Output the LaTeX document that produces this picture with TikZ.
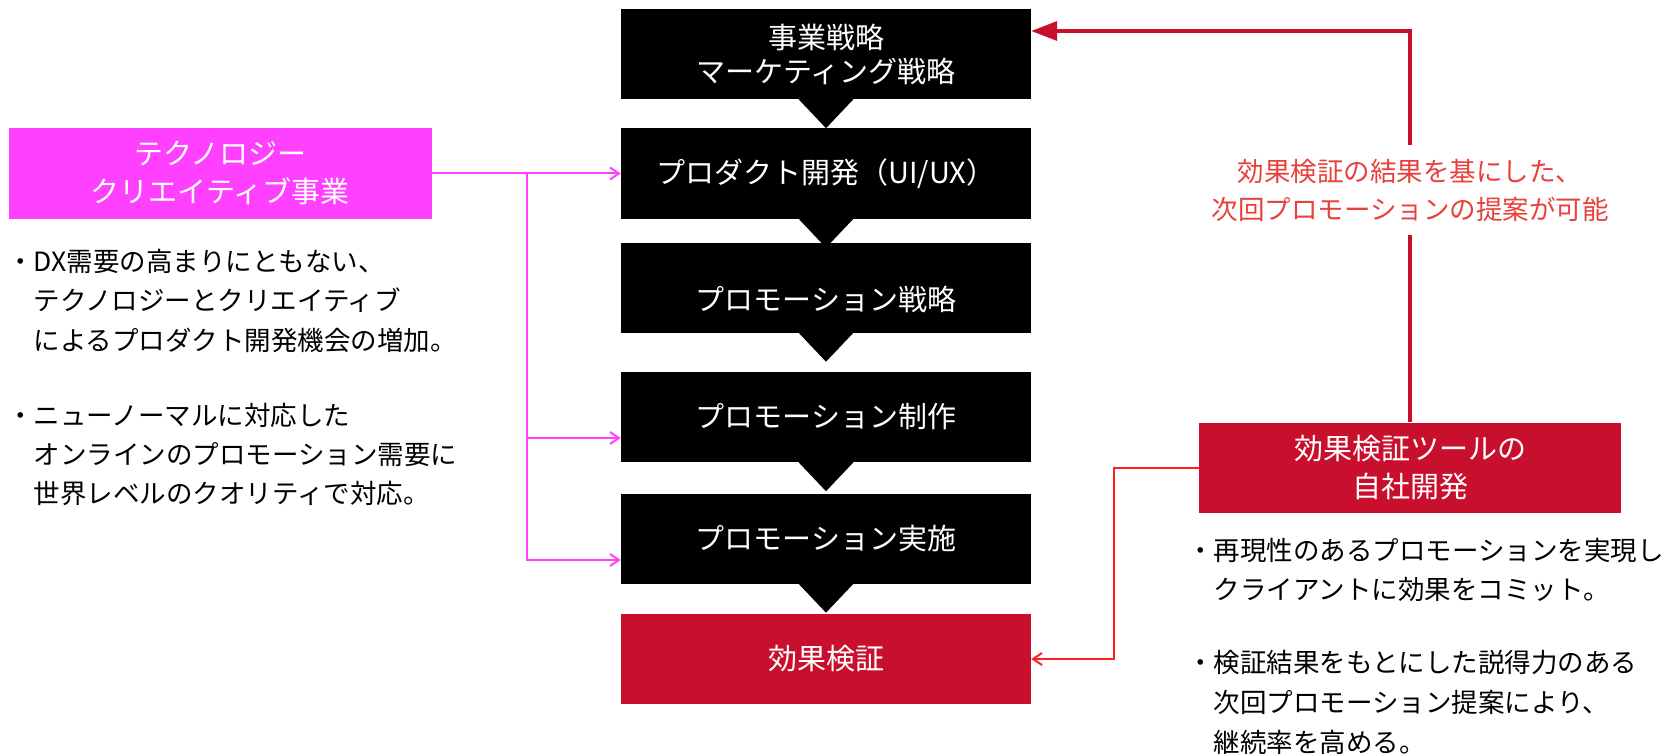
\documentclass[tikz,border=0pt]{standalone}
\usepackage{fontspec}
\newfontfamily\jp{Noto Sans CJK JP}
\usetikzlibrary{arrows.meta,calc}
\definecolor{pinkm}{HTML}{FF40FF}
\definecolor{crim}{HTML}{C8102E}
\definecolor{lblred}{HTML}{E8413B}
\definecolor{brightred}{HTML}{FF1F1F}
\begin{document}
\begin{tikzpicture}[x=1pt,y=-1pt,
  stepbox/.style={fill=black,text=white,minimum width=410pt,minimum height=90pt,inner sep=0pt,align=center,font=\jp\fontsize{29}{34}\selectfont},
  steptext/.style={text=white,inner sep=0pt,align=center,font=\jp\fontsize{29}{34}\selectfont},
  catbox/.style={text=white,minimum height=90pt,inner sep=0pt,align=center,font=\jp\fontsize{29}{38}\selectfont},
  pinkline/.style={draw=pinkm,line width=2pt},
  pinkarrow/.style={pinkline,-{Straight Barb[length=9pt,width=12pt]}},
  thickred/.style={draw=crim,line width=3.5pt,-{Triangle[length=26pt,width=19pt]}},
  thinred/.style={draw=brightred,line width=2pt,-{Straight Barb[length=9pt,width=12pt]}},
  lbl/.style={fill=white,text=lblred,align=center,inner xsep=4pt,inner ysep=13.5pt,font=\jp\fontsize{26.5}{38}\selectfont},
  body/.style={anchor=base west,inner sep=0pt,font=\jp\fontsize{26.5}{26.5}\selectfont}
]
\useasboundingbox (0,0) rectangle (1667,754);

% main column
\node[stepbox] (b1) at (826,54) {事業戦略\\マーケティング戦略};
\node[stepbox] (b2) at (826,173.5) {プロダクト開発（UI/UX）};
\node[stepbox] (b3) at (826,287.5) {};
\node[steptext] (b3t) at (826,299) {プロモーション戦略};
\node[stepbox] (b4) at (826,417) {プロモーション制作};
\node[stepbox] (b5) at (826,538.5) {プロモーション実施};
\node[stepbox,fill=crim] (b6) at (826,659) {効果検証};
\foreach \b in {b1,b2,b3,b4,b5}
  \fill ($(\b.south)+(-27.5,0)$) -- ($(\b.south)+(27.5,0)$) -- ($(\b.south)+(0,29)$) -- cycle;

% side boxes
\node[catbox,fill=pinkm,minimum width=423.5pt] (tc) at (220.25,173.5) {テクノロジー\\クリエイティブ事業};
\node[catbox,fill=crim,minimum width=422pt] (rb) at (1410,467.5) {効果検証ツールの\\自社開発};

% pink connectors
\coordinate (p4) at (527,438);
\coordinate (p5) at (527,560);
\draw[pinkarrow] (tc.east) -- (b2.west);
\draw[pinkarrow] (tc.east -| p4) -- (p5) -- (p5 -| b5.west);
\draw[pinkarrow] (p4) -- (p4 -| b4.west);

% red feedback
\coordinate (rt) at (1410,31);
\draw[thickred] (rb.north) -- (rt) -- (rt -| b1.east);
\node[lbl] (lb) at (1410,190) {効果検証の結果を基にした、\\次回プロモーションの提案が可能};

\coordinate (rv) at (1114,0);
\draw[thinred] (rb.west) -- (rb.west -| rv) -- (rv |- b6.east) -- (b6.east);

% left text
\node[body] (l1) at (7,271) {・DX需要の高まりにともない、};
\node[body] (l2) at (33.5,310) {テクノロジーとクリエイティブ};
\node[body] (l3) at (33.5,350) {によるプロダクト開発機会の増加。};
\node[body] (l4) at (7,425) {・ニューノーマルに対応した};
\node[body] (l5) at (33.5,464) {オンラインのプロモーション需要に};
\node[body] (l6) at (33.5,503.5) {世界レベルのクオリティで対応。};

% right text
\node[body] (r1) at (1187,560) {・再現性のあるプロモーションを実現し};
\node[body] (r2) at (1213.5,599) {クライアントに効果をコミット。};
\node[body] (r3) at (1187,672) {・検証結果をもとにした説得力のある};
\node[body] (r4) at (1213.5,712) {次回プロモーション提案により、};
\node[body] (r5) at (1213.5,752) {継続率を高める。};
\end{tikzpicture}
\end{document}
